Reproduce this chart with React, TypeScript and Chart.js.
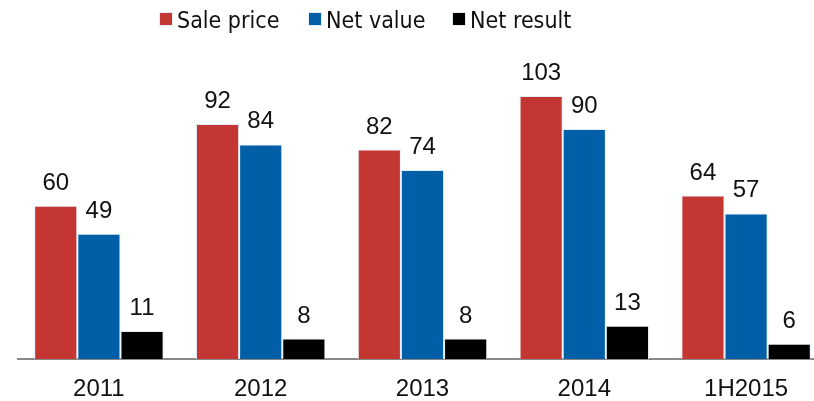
import React, { useEffect, useRef } from "react";
import { Chart, registerables } from "chart.js";

Chart.register(...registerables);

const categories = ["2011", "2012", "2013", "2014", "1H2015"];
const salePrice = [60, 92, 82, 103, 64];
const netValue = [49, 84, 74, 90, 57];
const netResult = [11, 8, 8, 13, 6];
const seriesLabels = ["Sale price", "Net value", "Net result"];
const seriesColors = ["#C43631", "#005FA6", "#000000"];

const LABEL_FONT = "24px 'Liberation Sans', Arial, sans-serif";
const LEGEND_FONT = "23px 'DejaVu Sans Condensed', 'DejaVu Sans', sans-serif";
const LEGEND_X = [160, 309, 453];

const valueLabelPlugin = {
  id: "valueLabels",
  afterDatasetsDraw(chart: any) {
    const ctx = chart.ctx;
    ctx.save();
    ctx.font = LABEL_FONT;
    ctx.fillStyle = "#111111";
    ctx.textAlign = "center";
    ctx.textBaseline = "alphabetic";
    chart.data.datasets.forEach((ds: any, di: number) => {
      const meta = chart.getDatasetMeta(di);
      meta.data.forEach((bar: any, i: number) => {
        ctx.fillText(String(ds.data[i]), bar.x, bar.y - 16);
      });
    });
    ctx.restore();
  },
};

const customLegendPlugin = {
  id: "customLegend",
  afterDraw(chart: any) {
    const ctx = chart.ctx;
    ctx.save();
    ctx.font = LEGEND_FONT;
    ctx.textBaseline = "alphabetic";
    ctx.textAlign = "left";
    const boxY = 13;
    const box = 12;
    chart.data.datasets.forEach((ds: any, i: number) => {
      const x = LEGEND_X[i];
      ctx.fillStyle = "#E4EDF5";
      ctx.fillRect(x - 1, boxY - 1, box + 2, box + 2);
      ctx.fillStyle = ds.backgroundColor;
      ctx.fillRect(x, boxY, box, box);
      ctx.fillStyle = "#111111";
      ctx.fillText(ds.label, x + box + 5, 28);
    });
    ctx.restore();
  },
};

export default function App() {
  const canvasRef = useRef<HTMLCanvasElement | null>(null);

  useEffect(() => {
    if (!canvasRef.current) return;
    const datasets = [salePrice, netValue, netResult].map((data, i) => ({
      label: seriesLabels[i],
      data,
      backgroundColor: seriesColors[i],
      borderColor: "#E4EDF5",
      borderWidth: 1,
      barPercentage: 1.0,
      categoryPercentage: 0.8,
    }));
    const chart = new Chart(canvasRef.current, {
      type: "bar",
      data: { labels: categories, datasets },
      options: {
        responsive: false,
        animation: false,
        layout: { padding: { left: 18, right: 3, top: 78, bottom: 0 } },
        plugins: {
          legend: { display: false },
          tooltip: { enabled: false },
        },
        scales: {
          x: {
            grid: { display: false, drawTicks: false },
            border: { display: true, color: "#888888", width: 2 },
            ticks: {
              color: "#111111",
              font: { family: "'Liberation Sans', Arial, sans-serif", size: 24 },
              padding: 16,
              maxRotation: 0,
            },
            afterFit: (axis: any) => {
              axis.height = 42;
            },
          },
          y: {
            display: false,
            min: 0,
            max: 110,
          },
        },
      },
      plugins: [valueLabelPlugin, customLegendPlugin],
    });
    return () => chart.destroy();
  }, []);

  return (
    <div
      style={{
        position: "absolute",
        left: 0,
        top: 0,
        width: 814,
        height: 401,
        overflow: "hidden",
        background: "#ffffff",
      }}
    >
      <canvas ref={canvasRef} width={830} height={401} style={{ display: "block" }} />
    </div>
  );
}
